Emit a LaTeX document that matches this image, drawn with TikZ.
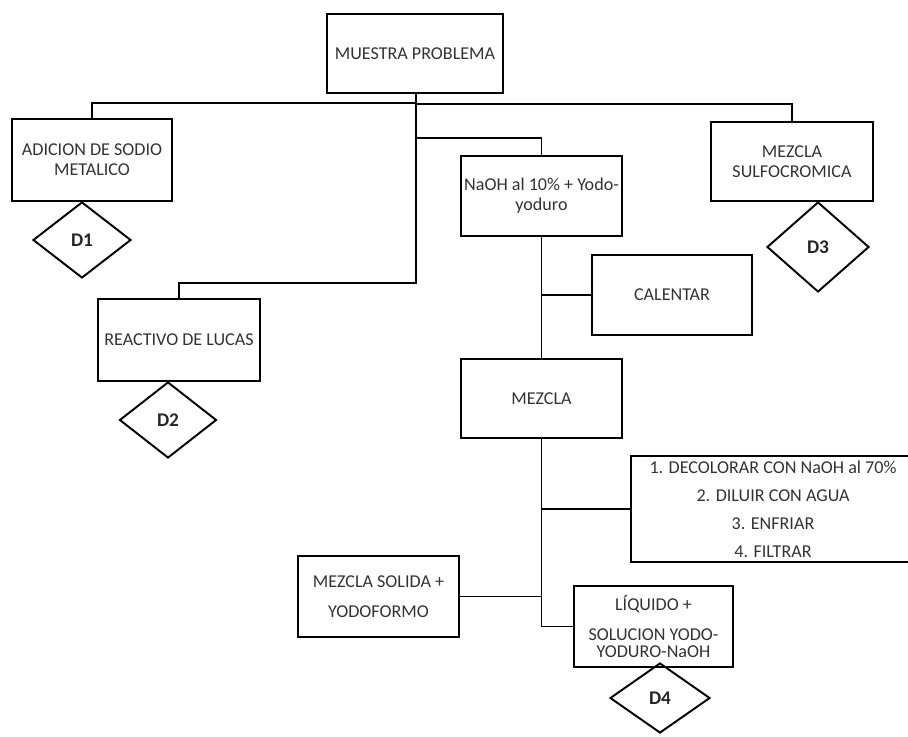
\documentclass[tikz,border=0pt]{standalone}
\usepackage{fontspec}
\setmainfont{Carlito}
\usetikzlibrary{shapes.geometric}
\begin{document}
\begin{tikzpicture}[x=0.02cm,y=-0.02cm,
  box/.style={draw=black, line width=1.1pt, rectangle, inner sep=1pt,
    align=center, text=black!80, font=\fontsize{10.3}{11.3}\selectfont},
  decision/.style={draw=black, line width=1.1pt, diamond, inner sep=0pt,
    text=black!85, font=\fontsize{11}{13}\selectfont\bfseries},
  link/.style={draw=black, line width=1pt}]
\useasboundingbox (0,0) rectangle (908,736);

% process boxes
\node[box, minimum width=3.52cm, minimum height=1.58cm] (muestra) at (415,53.5) {MUESTRA PROBLEMA};
\node[box, minimum width=3.2cm, minimum height=1.64cm] (adicion) at (92,160) {ADICION DE SODIO\\METALICO};
\node[box, minimum width=3.24cm, minimum height=1.58cm] (sulfo) at (792,161.5) {MEZCLA\\SULFOCROMICA};
\node[box, minimum width=3.22cm, minimum height=1.6cm] (naoh) at (541.5,196) {NaOH al 10\% + Yodo-\\yoduro};
\node[box, minimum width=3.2cm, minimum height=1.6cm] (calentar) at (672,295) {CALENTAR};
\node[box, minimum width=3.22cm, minimum height=1.58cm] (mezcla) at (541.5,398.5) {MEZCLA};
\node[box, minimum width=3.24cm, minimum height=1.64cm] (lucas) at (179,340) {REACTIVO DE LUCAS};
\node[box, minimum width=5.68cm, minimum height=2.12cm,
  font=\fontsize{10.3}{15.9}\selectfont] (pasos) at (773,509)
  {1. DECOLORAR CON NaOH al 70\%\\2. DILUIR CON AGUA\\3. ENFRIAR\\4. FILTRAR};
\node[box, minimum width=3.22cm, minimum height=1.62cm,
  font=\fontsize{10.3}{17}\selectfont] (solida) at (378.5,596.5) {MEZCLA SOLIDA +\\YODOFORMO};
\node[box, minimum width=3.18cm, minimum height=1.62cm,
  font=\fontsize{10.3}{9.8}\selectfont] (liquido) at (653.5,626.5) {LÍQUIDO +\\[7.5pt]SOLUCION YODO-\\YODURO-NaOH};

% decisions
\node[decision, minimum width=1.96cm, minimum height=1.52cm] (d1) at (82,240) {D1};
\node[decision, minimum width=1.94cm, minimum height=1.52cm] (d2) at (168,420) {D2};
\node[decision, minimum width=2.04cm, minimum height=1.8cm] (d3) at (818,247) {D3};
\node[decision, minimum width=2.0cm, minimum height=1.4cm] (d4) at (660,698) {D4};

% branching junctions below the sample
\coordinate (jA) at (416,103);
\coordinate (jB) at (416,104);
\coordinate (jC) at (416,138);
\coordinate (jD) at (416,283);

\draw[link] (muestra.south -| jA) -- (jD) -| (lucas.north);
\draw[link] (jA) -| (adicion.north);
\draw[link] (jB) -| (sulfo.north);
\draw[link] (jC) -| (naoh.north);

\draw[link] (naoh.south) -- (mezcla.north);
\draw[link] (naoh.south |- calentar.west) -- (calentar.west);

\draw[link] (mezcla.south) |- (liquido.west);
\draw[link] (mezcla.south |- pasos.west) -- (pasos.west);
\draw[link] (solida.east) -- (solida.east -| mezcla.south);
\end{tikzpicture}
\end{document}
